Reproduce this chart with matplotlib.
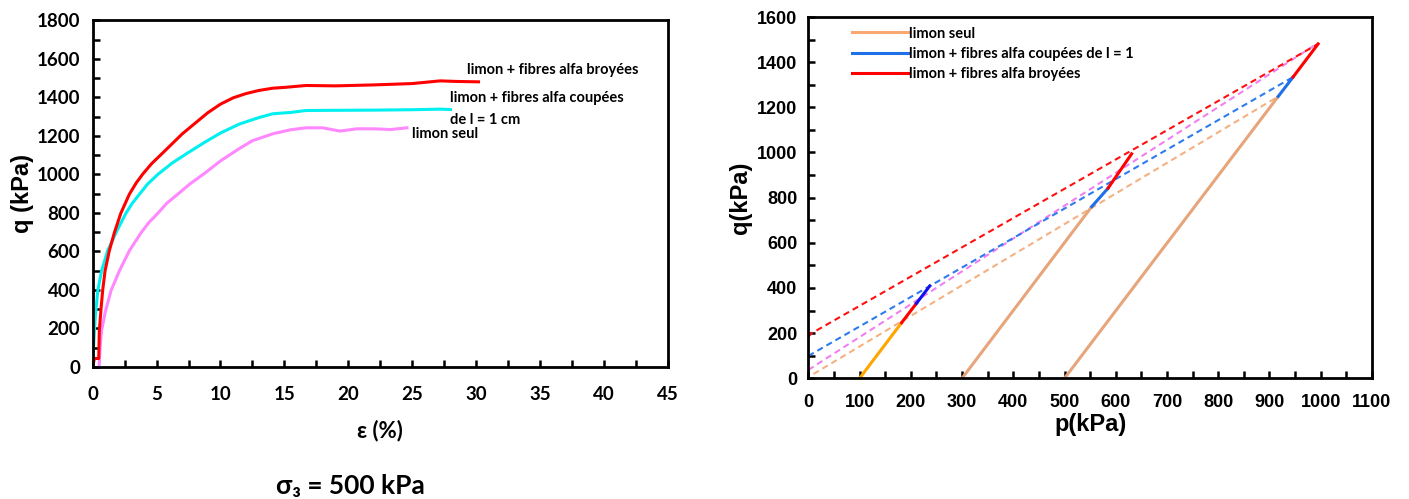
import matplotlib
matplotlib.use('Agg')
import matplotlib.pyplot as plt
from matplotlib.ticker import MultipleLocator
from matplotlib.font_manager import FontProperties

plt.rcParams['font.family'] = ['Lato', 'DejaVu Sans']
plt.rcParams['font.weight'] = 'bold'
ARIAL = ['Liberation Sans', 'DejaVu Sans']

# --- courbes q - epsilon (sigma3 = 500 kPa)
eps_broyees = [0, 0.13, 0.47, 0.52, 0.65, 0.78, 0.97, 1.3, 1.7, 2.2, 2.87, 3.4, 3.9, 4.6,
               5.35, 6.2, 7, 8, 9, 10, 11, 12, 13, 14.1, 15, 16.7, 19, 22, 25, 27.2,
               28.5, 30.2]
q_broyees = [0, 43, 43, 190, 300, 397, 500, 603, 698, 798, 897, 955, 1000, 1055,
             1103, 1158, 1210, 1265, 1320, 1365, 1398, 1420, 1436, 1448, 1452, 1462,
             1460, 1465, 1472, 1486, 1483, 1481]

eps_coupees = [0, 0.05, 0.2, 0.4, 0.7, 1.17, 1.83, 2.6, 3.1, 3.66, 4.3, 5.1, 6.2, 7.4,
               8.7, 10, 11.5, 13, 14.1, 15.5, 16.7, 19, 22, 25, 27.2, 28]
q_coupees = [0, 86, 260, 397, 500, 603, 698, 798, 850, 897, 950, 1000, 1058, 1110,
             1164, 1215, 1262, 1295, 1315, 1322, 1332, 1333, 1334, 1336, 1339, 1337]

eps_seul = [0.5, 0.6, 0.7, 1.0, 1.44, 2.1, 2.87, 3.8, 4.4, 5.1, 5.8, 6.66, 7.6, 8.75,
            10, 11.5, 12.5, 14.1, 15.5, 16.7, 18, 19.35, 20.7, 22, 23.3, 24.6]
q_seul = [0, 120, 190, 290, 397, 500, 603, 698, 750, 798, 850, 897, 950, 1005,
          1070, 1135, 1175, 1211, 1232, 1242, 1242, 1225, 1237, 1237, 1233, 1242]

# --- chemins de contraintes p - q
p_path1_a = [100, 182]
q_path1_a = [0, 246]
p_path1_b = [182, 211]
q_path1_b = [246, 332]
p_path1_c = [211, 237]
q_path1_c = [332, 409]

p_path2_a = [300, 553]
q_path2_a = [0, 760]
p_path2_b = [553, 585]
q_path2_b = [760, 842]
p_path2_c = [585, 631]
q_path2_c = [842, 994]

p_path3_a = [500, 917]
q_path3_a = [0, 1248]
p_path3_b = [917, 946]
q_path3_b = [1248, 1334]
p_path3_c = [946, 995]
q_path3_c = [1334, 1481]

# droites en pointillés
p_env_broyees = [0, 6, 995]
q_env_broyees = [184, 199, 1481]
p_env_coupees = [0, 946]
q_env_coupees = [99, 1334]
p_env_rose = [0, 989]
q_env_rose = [37, 1476]
p_env_seul = [10, 917]
q_env_seul = [19, 1248]

fig = plt.figure(figsize=(14.09, 4.99), dpi=100)

# ---------------- graphique de gauche
ax1 = fig.add_axes([0.0658, 0.265, 0.408, 0.694])
ax1.plot(eps_seul, q_seul, color='#FF88FF', lw=2.2)
ax1.plot(eps_coupees, q_coupees, color='#00F0F0', lw=2.2)
ax1.plot(eps_broyees, q_broyees, color='#FF0000', lw=2.2)
ax1.set_xlim(0, 45)
ax1.set_ylim(0, 1800)
ax1.xaxis.set_major_locator(MultipleLocator(5))
ax1.xaxis.set_minor_locator(MultipleLocator(2.5))
ax1.yaxis.set_major_locator(MultipleLocator(200))
ax1.yaxis.set_minor_locator(MultipleLocator(100))
ax1.tick_params(which='both', direction='in', width=1.8, length=5)
ax1.tick_params(axis='y', labelsize=13.5, pad=9)
ax1.tick_params(axis='x', labelsize=13.5, pad=14)
for s in ax1.spines.values():
    s.set_linewidth(2)
ax1.set_ylabel('q (kPa)', fontsize=17, fontweight='bold', family=ARIAL)
ax1.yaxis.set_label_coords(-0.103, 0.5)
ax1.set_xlabel('ε (%)', fontsize=16, fontweight='bold', labelpad=12)

ax1.text(29.3, 1540, 'limon + fibres alfa broyées', fontsize=10.5, fontweight='bold', va='center')
ax1.text(28.0, 1398, 'limon + fibres alfa coupées', fontsize=10.5, fontweight='bold', va='center')
ax1.text(28.0, 1284, 'de l = 1 cm', fontsize=10.5, fontweight='bold', va='center')
ax1.text(25.0, 1208, 'limon seul', fontsize=10.5, fontweight='bold', va='center')

fig.text(350 / 1409, 1 - 486 / 499, 'σ₃ = 500 kPa', fontsize=19, fontweight='bold',
         ha='center', va='center')

# ---------------- graphique de droite
ax2 = fig.add_axes([0.5737, 0.2419, 0.400, 0.724])
ax2.plot(p_env_seul, q_env_seul, color='#F4B183', lw=1.5, ls=(0, (3, 2)))
ax2.plot(p_env_rose, q_env_rose, color='#F080F0', lw=1.5, ls=(0, (3, 2)))
ax2.plot(p_env_coupees, q_env_coupees, color='#2E7BEF', lw=1.5, ls=(0, (3, 2)))
ax2.plot(p_env_broyees, q_env_broyees, color='#FF1010', lw=1.5, ls=(0, (3, 2)))

ax2.plot(p_path1_a, q_path1_a, color='#FFA500', lw=2.2)
ax2.plot(p_path1_b, q_path1_b, color='#FF0000', lw=2.2)
ax2.plot(p_path1_c, q_path1_c, color='#1010F0', lw=2.2)
ax2.plot(p_path2_a, q_path2_a, color='#E6A57A', lw=2.2)
ax2.plot(p_path2_b, q_path2_b, color='#1F6FE8', lw=2.2)
ax2.plot(p_path2_c, q_path2_c, color='#FF0000', lw=2.2)
ax2.plot(p_path3_a, q_path3_a, color='#E6A57A', lw=2.2)
ax2.plot(p_path3_b, q_path3_b, color='#1F6FE8', lw=2.2)
ax2.plot(p_path3_c, q_path3_c, color='#FF0000', lw=2.2)

# entrées de légende
l1, = ax2.plot([], [], color='#F8A870', lw=2.2)
l2, = ax2.plot([], [], color='#1F6FE8', lw=2.2)
l3, = ax2.plot([], [], color='#FF0000', lw=2.2)
ax2.legend([l1, l2, l3],
           ['limon seul', 'limon + fibres alfa coupées de l = 1', 'limon + fibres alfa broyées'],
           loc='upper left', bbox_to_anchor=(0.055, 1.01), frameon=False,
           fontsize=10.5, handlelength=3.8, handletextpad=0.1, labelspacing=0.42)

ax2.set_xlim(0, 1100)
ax2.set_ylim(0, 1600)
ax2.xaxis.set_major_locator(MultipleLocator(100))
ax2.xaxis.set_minor_locator(MultipleLocator(50))
ax2.yaxis.set_major_locator(MultipleLocator(200))
ax2.yaxis.set_minor_locator(MultipleLocator(100))
ax2.tick_params(which='both', direction='in', width=1.8, length=5)
ax2.tick_params(axis='y', pad=8)
ax2.tick_params(axis='x', pad=11)
for s in ax2.spines.values():
    s.set_linewidth(2)
ax2.set_ylabel('q(kPa)', fontsize=17, fontweight='bold', family=ARIAL)
ax2.yaxis.set_label_coords(-0.10, 0.5)
ax2.set_xlabel('p(kPa)', fontsize=17, fontweight='bold', family=ARIAL, labelpad=2)

# étiquettes de graduation en Arial gras
fig.canvas.draw()
fp = FontProperties(family='Liberation Sans', weight='bold', size=13)
for lab in ax2.get_xticklabels() + ax2.get_yticklabels():
    lab.set_fontproperties(fp)

fig.savefig('out.png', dpi=100)
